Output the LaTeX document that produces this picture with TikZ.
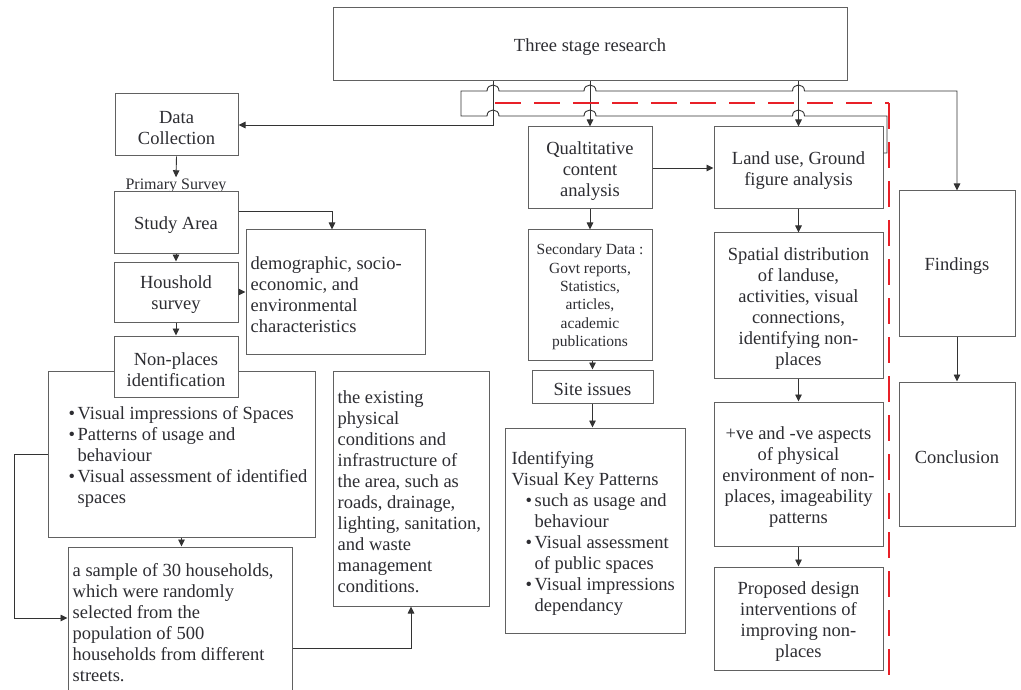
\documentclass[tikz,border=0pt]{standalone}
\usepackage{fontspec}
\setmainfont{Liberation Serif}
\usetikzlibrary{arrows.meta}
\definecolor{dashred}{RGB}{232,32,40}
\definecolor{ink}{RGB}{45,45,50}
% box with centred text: name, x, y, width, height, text
\newcommand{\cbox}[6]{%
  \node[box, minimum width=#4, minimum height=#5] (#1) at (#2,#3) {};
  \node[ctxt] (#1-t) at ([yshift=-3pt]#1.center) {#6};}
% box with left text: name, x, y, width, height, left pad, text
\newcommand{\lbox}[7]{%
  \node[box, minimum width=#4, minimum height=#5] (#1) at (#2,#3) {};
  \node[txt] (#1-t) at ([xshift=#6, yshift=-3pt]#1.west) {#7};}
\begin{document}
\begin{tikzpicture}[x=1pt,y=-1pt,
  box/.style={draw=black!62, line width=1pt, fill=white, inner sep=0pt},
  ctxt/.style={inner sep=0pt, align=center, text=ink, font=\fontsize{18.5}{21}\selectfont},
  smalltxt/.style={inner sep=0pt, align=center, text=ink, font=\fontsize{15.5}{18.3}\selectfont},
  txt/.style={inner sep=0pt, align=left, text=ink, font=\fontsize{18.5}{21}\selectfont, anchor=west},
  arr/.style={draw=black!80, line width=0.9pt, -{Triangle[length=7pt,width=6.5pt]}},
  reddash/.style={draw=dashred, line width=2.4pt, dash pattern=on 26pt off 13pt}]
\useasboundingbox (0,0) rectangle (1021,690);

% ---------- boxes ----------
\cbox{top}{590}{44.5}{514pt}{73pt}{Three stage research}
\cbox{dc}{176.5}{125}{123pt}{62pt}{Data\\Collection}
\node[inner sep=1pt, text=ink, font=\fontsize{16}{18}\selectfont] (ps) at (176,185.5) {Primary Survey};
\cbox{study}{176}{222.5}{124pt}{61pt}{Study Area}
\cbox{hh}{176}{292}{124pt}{60pt}{Houshold\\survey}
\lbox{demo}{335.5}{292}{179pt}{124pt}{5pt}{demographic, socio-\\economic, and\\environmental\\characteristics}
\lbox{bul}{181.5}{454}{267pt}{166pt}{21pt}{\makebox[9pt][l]{\textbullet}Visual impressions of Spaces\\
 \makebox[9pt][l]{\textbullet}Patterns of usage and\\
 \hspace*{9pt}behaviour\\
 \makebox[9pt][l]{\textbullet}Visual assessment of identified\\
 \hspace*{9pt}spaces}
\cbox{np}{176}{366.5}{124pt}{61pt}{Non-places\\identification}
\lbox{sample}{180}{620}{224pt}{146pt}{5pt}{a sample of 30 households,\\which were randomly\\selected from the\\population of 500\\households from different\\streets.}
\lbox{exist}{411}{488.5}{156pt}{235pt}{5pt}{the existing\\physical\\conditions and\\infrastructure of\\the area, such as\\roads, drainage,\\lighting, sanitation,\\and waste\\management\\conditions.}

\cbox{qual}{590}{168}{124pt}{82pt}{Qualtitative\\content\\analysis}
\node[box, minimum width=124pt, minimum height=130pt] (sec) at (590,295) {};
\node[smalltxt] (sec-t) at ([yshift=-2pt]sec.center) {Secondary Data :\\Govt reports,\\Statistics,\\articles,\\academic\\publications};
\cbox{site}{592.5}{386.5}{121pt}{33pt}{Site issues}
\lbox{ident}{595}{530.5}{180pt}{205pt}{7pt}{Identifying\\Visual Key Patterns\\
 \hspace*{14pt}\makebox[9pt][l]{\textbullet}such as usage and\\
 \hspace*{23pt}behaviour\\
 \hspace*{14pt}\makebox[9pt][l]{\textbullet}Visual assessment\\
 \hspace*{23pt}of public spaces\\
 \hspace*{14pt}\makebox[9pt][l]{\textbullet}Visual impressions\\
 \hspace*{23pt}dependancy}

\cbox{land}{798.5}{168}{169pt}{82pt}{Land use, Ground\\figure analysis}
\cbox{spat}{798.5}{305.5}{169pt}{145pt}{Spatial distribution\\of landuse,\\activities, visual\\connections,\\identifying non-\\places}
\cbox{pos}{798.5}{474}{169pt}{144pt}{+ve and -ve aspects\\of physical\\environment of non-\\places, imageability\\patterns}
\cbox{prop}{798.5}{618.5}{169pt}{103pt}{Proposed design\\interventions of\\improving non-\\places}
\cbox{find}{957}{263.5}{116pt}{145pt}{Findings}
\cbox{conc}{957}{454}{116pt}{144pt}{Conclusion}

% ---------- connectors ----------
\draw[arr] ([xshift=-97pt]top.south) |- (dc.east);
\draw[arr] (top.south) -- (qual.north);
\draw[arr] (top.south -| land.north) -- (land.north);
\draw[arr] ([yshift=15pt]land.east) -- (887,153) -- (887,116)
  -- (804.5,116) .. controls (804.5,108) and (792.5,108) .. (792.5,116)
  -- (596,116) .. controls (596,108) and (584,108) .. (584,116)
  -- (499,116) .. controls (499,108) and (487,108) .. (487,116)
  -- (461,116) -- (461,91)
  -- (487,91) .. controls (487,83) and (499,83) .. (499,91)
  -- (584,91) .. controls (584,83) and (596,83) .. (596,91)
  -- (792.5,91) .. controls (792.5,83) and (804.5,83) .. (804.5,91)
  -- (957,91) -- (find.north);

\draw[arr] (dc.south) -- (ps.north);
\draw[arr] (study.south) -- (hh.north);
\draw[arr] ([yshift=11pt]study.east) -| ([xshift=-3.5pt]demo.north);
\draw[arr] (hh.east) -- (demo.west);
\draw[arr] (hh.south) -- (np.north);
\draw[arr] (bul.south) -- (bul.south |- sample.north);
\draw[arr] (bul.west) -- ++(-33,0) |- ([yshift=2pt]sample.west);
\draw[arr] ([yshift=-28pt]sample.east) -| (exist.south);

\draw[arr] (qual.south) -- (sec.north);
\draw[arr] (sec.south -| site.north) -- (site.north);
\draw[arr] (site.south) -- (site.south |- ident.north);
\draw[arr] (qual.east) -- (land.west);

\draw[arr] (land.south) -- (spat.north);
\draw[arr] (spat.south) -- (pos.north);
\draw[arr] (pos.south) -- (prop.north);
\draw[arr] (find.south) -- (conc.north);

% ---------- red divider ----------
\coordinate (r1) at (495,103);
\coordinate (r2) at (889,103);
\coordinate (r3) at (889,677);
\draw[reddash] (r1) -- (r2);
\draw[reddash] (r2) -- (r3);
\end{tikzpicture}
\end{document}
